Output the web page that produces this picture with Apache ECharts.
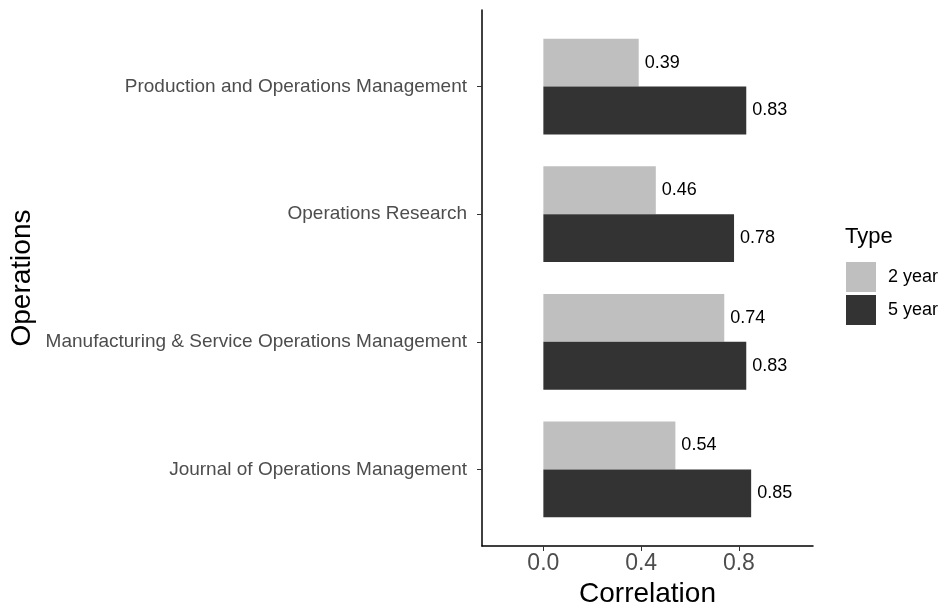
<!DOCTYPE html>
<html>
<head>
    <meta charset="utf-8">
    <title>Correlation by journal</title>
    <script src="https://cdn.jsdelivr.net/npm/echarts@6/dist/echarts.min.js"></script>
    <style>
        html, body { margin: 0; padding: 0; background: #fff; }
        #main { width: 945px; height: 607px; }
    </style>
</head>
<body>
    <div id="main"></div>
    <script type="text/javascript">
        // journals, top to bottom as in the picture
        var categories = [
            'Production and Operations Management',
            'Operations Research',
            'Manufacturing & Service Operations Management',
            'Journal of Operations Management'
        ];
        var twoYear = [0.39, 0.46, 0.74, 0.54];
        var fiveYear = [0.83, 0.78, 0.83, 0.85];
        var xTicks = [0, 0.4, 0.8];

        var font = '"Liberation Sans", Arial, sans-serif';
        var xMin = -0.251, xMax = 1.103;

        var myChart = echarts.init(document.getElementById('main'));

        myChart.setOption({
            animation: false,
            textStyle: { fontFamily: font },
            title: {
                text: 'Type',
                left: 845,
                top: 226,
                padding: 0,
                textStyle: { fontSize: 22, fontWeight: 'normal', color: '#000', fontFamily: font }
            },
            legend: {
                data: ['2 year', '5 year'],
                orient: 'vertical',
                left: 846,
                top: 262,
                padding: 0,
                itemWidth: 30,
                itemHeight: 30,
                itemGap: 3,
                icon: 'rect',
                textStyle: { fontSize: 18, color: '#000', padding: [0, 0, 0, 7], fontFamily: font }
            },
            grid: [
                // frame with the axis lines
                { left: 482, right: 132, top: 10, bottom: 61, outerBoundsMode: 'none' },
                // bars, shrunk so the bands match the discrete padding
                { left: 482, right: 132, top: 22.8, bottom: 73.8, outerBoundsMode: 'none' }
            ],
            xAxis: [
                {
                    gridIndex: 0,
                    type: 'value',
                    min: xMin,
                    max: xMax,
                    name: 'Correlation',
                    nameLocation: 'middle',
                    nameGap: 31,
                    nameTextStyle: { fontSize: 28, color: '#000', fontFamily: font },
                    axisLine: { show: true, onZero: false, lineStyle: { color: '#000', width: 1.5 } },
                    axisTick: { show: true, length: 5, lineStyle: { color: '#333' }, customValues: xTicks },
                    axisLabel: {
                        fontSize: 23, color: '#4D4D4D', margin: 6,
                        customValues: xTicks,
                        formatter: function (v) { return v.toFixed(1); }
                    },
                    splitLine: { show: false }
                },
                {
                    gridIndex: 1,
                    type: 'value',
                    min: xMin,
                    max: xMax,
                    show: false,
                    splitLine: { show: false }
                }
            ],
            yAxis: [
                {
                    gridIndex: 0,
                    type: 'value',
                    min: 0,
                    max: 1,
                    name: 'Operations',
                    nameLocation: 'middle',
                    nameGap: 446,
                    nameTextStyle: { fontSize: 28, color: '#000', fontFamily: font },
                    axisLine: { show: true, onZero: false, lineStyle: { color: '#000', width: 1.5 } },
                    axisTick: { show: false },
                    axisLabel: { show: false },
                    splitLine: { show: false }
                },
                {
                    gridIndex: 1,
                    type: 'category',
                    data: categories,
                    inverse: true,
                    axisLine: { show: false, onZero: false },
                    axisTick: { show: true, alignWithLabel: true, length: 5, lineStyle: { color: '#333' } },
                    axisLabel: { fontSize: 19, color: '#4D4D4D', margin: 15 },
                    splitLine: { show: false }
                }
            ],
            series: [
                {
                    name: '2 year',
                    type: 'bar',
                    xAxisIndex: 1,
                    yAxisIndex: 1,
                    data: twoYear,
                    barGap: '0%',
                    barCategoryGap: '25%',
                    itemStyle: { color: '#BFBFBF' },
                    label: {
                        show: true, position: 'right', distance: 6,
                        fontSize: 18, color: '#000',
                        formatter: function (p) { return p.value.toFixed(2); }
                    }
                },
                {
                    name: '5 year',
                    type: 'bar',
                    xAxisIndex: 1,
                    yAxisIndex: 1,
                    data: fiveYear,
                    barGap: '0%',
                    barCategoryGap: '25%',
                    itemStyle: { color: '#333333' },
                    label: {
                        show: true, position: 'right', distance: 6,
                        fontSize: 18, color: '#000',
                        formatter: function (p) { return p.value.toFixed(2); }
                    }
                }
            ]
        });
    </script>
</body>
</html>
